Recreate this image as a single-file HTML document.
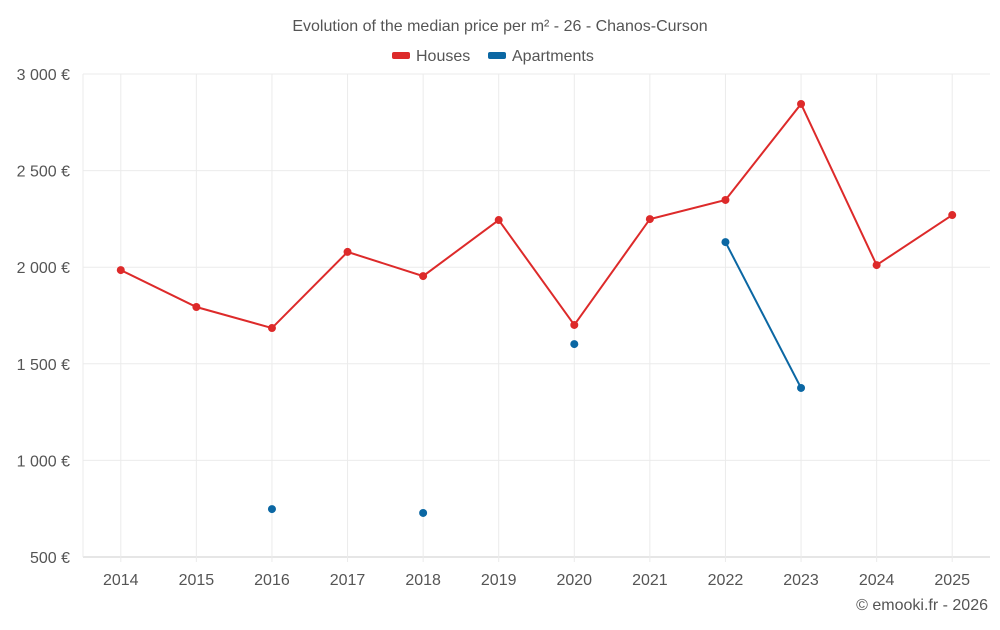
<!DOCTYPE html>
<html><head><meta charset="utf-8"><style>
body{margin:0;background:#fff;font-family:"Liberation Sans",sans-serif}
svg text{font-family:"Liberation Sans",sans-serif}
</style></head><body>
<svg id="c" width="1000" height="625">
<text x="500" y="31" text-anchor="middle" font-size="16" fill="#555">Evolution of the median price per m² - 26 - Chanos-Curson</text>
<g>
<g><rect x="392" y="52" width="18" height="7" rx="2" fill="#dd2a2a"/><text x="416" y="61" font-size="16" fill="#555">Houses</text></g>
<g><rect x="488" y="52" width="18" height="7" rx="2" fill="#0b67a3"/><text x="512" y="61" font-size="16" fill="#555">Apartments</text></g>
</g>
<text x="988" y="610" text-anchor="end" font-size="16" fill="#555">© emooki.fr - 2026</text>
<g id="g"></g>
</svg>
<script>
const years=[2014,2015,2016,2017,2018,2019,2020,2021,2022,2023,2024,2025];
const houses=[1985,1794,1685,2079,1954,2244,1701,2249,2348,2845,2011,2270];
const apartments=[null,null,748,null,728,null,1602,null,2130,1375,null,null];
const yTicks=[500,1000,1500,2000,2500,3000];
const yLabels=["500 €","1 000 €","1 500 €","2 000 €","2 500 €","3 000 €"];
const L=83,R=990,T=74,B=557,ns="http://www.w3.org/2000/svg";
const step=(R-L)/years.length;
const x=i=>L+step*(i+0.5);
const y=v=>B-(v-500)/2500*(B-T);
const g=document.getElementById('g');
function mk(t,a){const e=document.createElementNS(ns,t);for(const k in a)e.setAttribute(k,a[k]);g.appendChild(e);return e;}
yTicks.forEach((v,i)=>{
 const l=mk('line',{x1:L,x2:R,y1:y(v),y2:y(v),stroke:i==0?'#ccc':'#ebebeb'});
 
 
 const t=mk('text',{x:70,y:y(v)+6,'text-anchor':'end','font-size':16,fill:'#555'});t.textContent=yLabels[i];
 
 
});
mk('line',{x1:L,x2:L,y1:T,y2:B,stroke:'#ebebeb'});
years.forEach((yr,i)=>{
 const l=mk('line',{x1:x(i),x2:x(i),y1:T,y2:B+5,stroke:'#ebebeb'});
 
 
 const t=mk('text',{x:x(i),y:585,'text-anchor':'middle','font-size':16,fill:'#555'});t.textContent=yr;
 
 
});
function series(data,color,name){
 let segs=[],cur=[];
 data.forEach((v,i)=>{if(v==null){if(cur.length)segs.push(cur);cur=[];}else cur.push([x(i),y(v)]);});
 if(cur.length)segs.push(cur);
 segs.forEach(s=>{if(s.length>1){const p=mk('polyline',{points:s.map(q=>q.join(',')).join(' '),fill:'none',stroke:color,'stroke-width':2});
  
  }});
 data.forEach((v,i)=>{if(v==null)return;const c=mk('circle',{cx:x(i),cy:y(v),r:4,fill:color});
  
  });
}
series(houses,'#dd2a2a','houses');
series(apartments,'#0b67a3','apartments');
</script>
</body></html>
